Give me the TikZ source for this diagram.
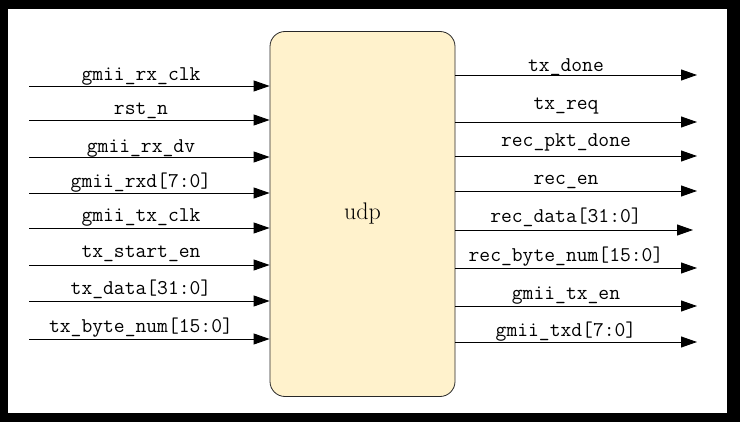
\documentclass[tikz,border=0pt]{standalone}
\usepackage{tikz}
\usetikzlibrary{arrows.meta, positioning}
\definecolor{udpfill}{RGB}{255,242,204}
\definecolor{udpline}{RGB}{40,40,40}

\begin{document}
\begin{tikzpicture}[x=1pt, y=-1pt, font=\fontsize{21}{23}\selectfont\ttfamily,
  sig/.style={line width=0.9pt, -{Triangle[length=16pt, width=11pt]}}]
  % screen frame
  \fill[black] (0,0) rectangle (740,422);
  \fill[white] (8,9) rectangle (727,413);
  \useasboundingbox (0,0) rectangle (740,422);

  \node[draw=udpline, fill=udpfill, rounded corners=15pt, line width=0.8pt,
        minimum width=185pt, minimum height=365pt, inner sep=0pt,
        font=\fontsize{24}{26}\selectfont\rmfamily] (udp) at (362.5,214) {udp};

  % inputs
  \foreach \i/\y/\ty/\name in {1/86/81/gmii\_rx\_clk, 2/120/115/rst\_n,
      3/157/153/gmii\_rx\_dv, 4/193/188/gmii\_rxd[7:0],
      5/228/222/gmii\_tx\_clk, 6/265/258/tx\_start\_en,
      7/301/295/tx\_data[31:0], 8/339/333/tx\_byte\_num[15:0]} {
    \coordinate (in\i) at (29,\y);
    \draw[sig] (in\i) -- (in\i -| udp.west);
    \node[anchor=base] (lin\i) at (141,\ty) {\name};
  }

  % outputs
  \foreach \i/\y/\ty/\xe/\name in {1/75/72/697/tx\_done, 2/122/110/697/tx\_req,
      3/156/147/697/rec\_pkt\_done, 4/191/185/697/rec\_en,
      5/230/223/693/rec\_data[31:0], 6/268/262/697/rec\_byte\_num[15:0],
      7/306/300/697/gmii\_tx\_en, 8/342/337/697/gmii\_txd[7:0]} {
    \coordinate (out\i) at (\xe,\y);
    \draw[sig] (out\i -| udp.east) -- (out\i);
    \node[anchor=base] (lout\i) at (566,\ty) {\name};
  }
\end{tikzpicture}
\end{document}
